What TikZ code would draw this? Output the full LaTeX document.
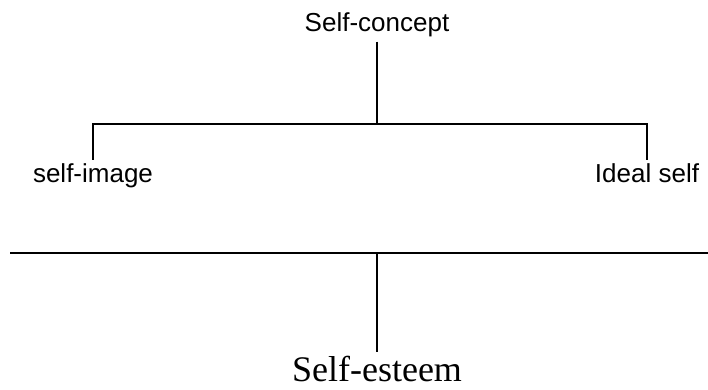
\documentclass[tikz,border=0pt]{standalone}
\usepackage{fontspec}
\setmainfont{Liberation Serif}
\newfontfamily\labelsans{Liberation Sans}
\begin{document}
\begin{tikzpicture}[x=1pt,y=-1pt,
  line/.style={line width=2pt},
  sanslabel/.style={font=\labelsans\fontsize{26}{28}\selectfont, inner sep=0pt},
  seriflabel/.style={font=\rmfamily\fontsize{36}{40}\selectfont, inner sep=0pt}]
\useasboundingbox (0,0) rectangle (708,390);
\node[sanslabel, anchor=base] (sc) at (377,32) {Self-concept};
\node[sanslabel, anchor=base] (si) at (93,182) {self-image};
\node[sanslabel, anchor=base] (is) at (647,182) {Ideal self};
\node[seriflabel, anchor=base] (se) at (377,381) {Self-esteem};
\coordinate (j1) at (377,124);
\coordinate (hl) at (10,253);
\coordinate (hr) at (708,253);
\coordinate (j2) at (377,253);
\draw[line] ([yshift=-4pt]sc.south) -- (j1);
\draw[line] ([yshift=3pt]si.north) |- (j1) -| ([yshift=3pt]is.north);
\draw[line] (hl) -- (hr);
\draw[line] (j2) -- ([yshift=3pt]se.north);
\end{tikzpicture}
\end{document}
